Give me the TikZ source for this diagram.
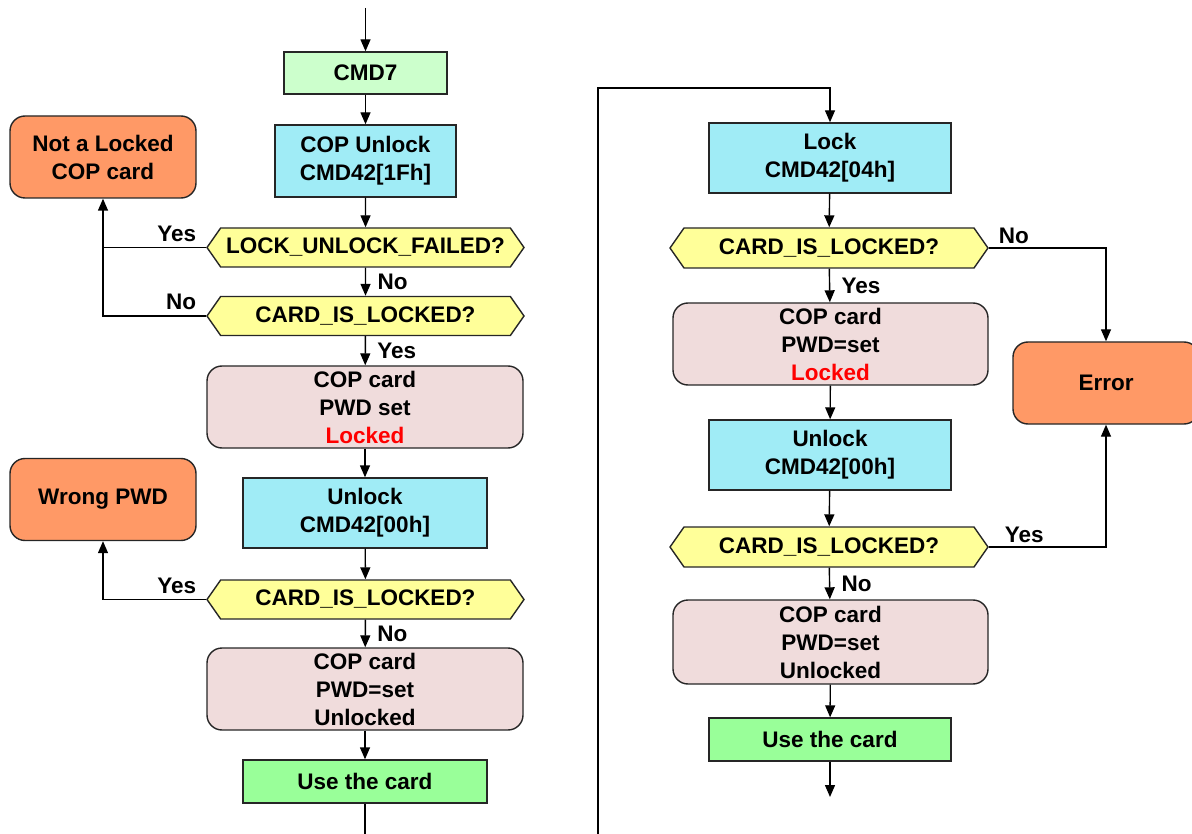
\documentclass[tikz,border=0pt]{standalone}
\usepackage{fontspec}
\setmainfont{Liberation Sans}
\usetikzlibrary{arrows.meta,shapes.symbols,positioning}
\definecolor{cmdgreen}{HTML}{CCFFCC}
\definecolor{cmdblue}{HTML}{A0ECF6}
\definecolor{askyellow}{HTML}{FFFF99}
\definecolor{statepink}{HTML}{F0DCDC}
\definecolor{failorange}{HTML}{FF9966}
\definecolor{usegreen}{HTML}{99FF99}
\definecolor{lockred}{HTML}{FF0000}
\tikzset{
  box/.style={draw=black!85,line width=1.4pt,inner sep=0pt,align=center},
  cmdbox/.style={box,fill=cmdblue},
  statebox/.style={box,fill=statepink,rounded corners=15pt,minimum width=316pt,minimum height=82pt},
  failbox/.style={box,fill=failorange,rounded corners=15pt,minimum width=186pt,minimum height=82pt},
  usebox/.style={box,fill=usegreen,minimum width=244pt,minimum height=43pt},
  askhex/.style={box,fill=askyellow,shape=signal,signal to=west and east,signal pointer angle=110,minimum width=317pt,minimum height=39pt},
  flow/.style={line width=1.4pt,-{Triangle[length=12pt,width=10pt]}},
  link/.style={line width=1.4pt},
  downlabel/.style={right,xshift=8pt}
}
\begin{document}
\begin{tikzpicture}[x=1pt,y=-1pt,font=\fontsize{22.5}{28}\selectfont\bfseries]
		\useasboundingbox (0,0) rectangle (1192,834);
		% left column
		\coordinate (start) at (365.5,8);
		\node[box,fill=cmdgreen,minimum width=163pt,minimum height=42pt] (cmd7) at (365.5,73) {CMD7};
		\node[cmdbox,minimum width=181pt,minimum height=72pt] (copunlock) at (365.5,161) {COP Unlock\\CMD42[1Fh]};
		\node[askhex] (failed) at (365.5,247.5) {LOCK\_UNLOCK\_FAILED?};
		\node[askhex] (lockedA) at (365.5,316) {CARD\_IS\_LOCKED?};
		\node[statebox] (stateA) at (365,407) {COP card\\PWD set\\\textcolor{lockred}{Locked}};
		\node[cmdbox,minimum width=244pt,minimum height=70pt] (unlockA) at (365,513) {Unlock\\CMD42[00h]};
		\node[askhex] (lockedB) at (365.5,599.5) {CARD\_IS\_LOCKED?};
		\node[statebox] (stateB) at (365,689) {COP card\\PWD=set\\Unlocked};
		\node[usebox] (useA) at (365,781.5) {Use the card};
		\coordinate (exitA) at (365,834);
		\node[failbox] (notlocked) at (103,157) {Not a Locked\\COP card};
		\node[failbox] (wrongpwd) at (103,499.5) {Wrong PWD};
		\coordinate (joinA) at (notlocked.south |- failed.west);
		
		\draw[flow] (start) -- (cmd7);
		\draw[flow] (cmd7) -- (copunlock);
		\draw[flow] (copunlock) -- (failed);
		\draw[flow] (failed) -- node[downlabel]{No} (lockedA);
		\draw[flow] (lockedA) -- node[downlabel]{Yes} (stateA);
		\draw[flow] (stateA) -- (unlockA);
		\draw[flow] (unlockA) -- (lockedB);
		\draw[flow] (lockedB) -- node[downlabel]{No} (stateB);
		\draw[flow] (stateB) -- (useA);
		\draw[link] (useA) -- (exitA);
		\draw[flow] (failed.west) -| node[pos=0,above left,xshift=-6pt,yshift=2pt]{Yes} (notlocked.south);
		\draw[link] (lockedA.west) -| node[pos=0,above left,xshift=-6pt,yshift=2pt]{No} (joinA);
		\draw[flow] (lockedB.west) -| node[pos=0,above left,xshift=-6pt,yshift=2pt]{Yes} (wrongpwd.south);
		
		% right column
		\coordinate (rightin) at (598,834);
		\coordinate (loopin) at (598,88);
		\node[cmdbox,minimum width=242pt,minimum height=70pt] (lock) at (830,158) {Lock\\CMD42[04h]};
		\node[askhex,minimum width=318pt,minimum height=40pt] (lockedC) at (829,248) {CARD\_IS\_LOCKED?};
		\node[statebox,minimum width=315pt] (stateC) at (830.5,344) {COP card\\PWD=set\\\textcolor{lockred}{Locked}};
		\node[cmdbox,minimum width=242pt,minimum height=70pt] (unlockB) at (830,455) {Unlock\\CMD42[00h]};
		\node[askhex,minimum width=318pt,minimum height=40pt] (lockedD) at (829,547) {CARD\_IS\_LOCKED?};
		\node[statebox,minimum width=315pt,minimum height=84pt] (stateD) at (830.5,642) {COP card\\PWD=set\\Unlocked};
		\node[usebox,minimum width=242pt] (useB) at (830,739.5) {Use the card};
		\coordinate (exitB) at (830,797);
		\node[failbox] (error) at (1106,383) {Error};
		
		\draw[flow] (rightin) -- (loopin) -| (lock.north);
		\draw[flow] (lock) -- (lockedC);
		\draw[flow] (lockedC) -- node[downlabel]{Yes} (stateC);
		\draw[flow] (stateC) -- (unlockB);
		\draw[flow] (unlockB) -- (lockedD);
		\draw[flow] (lockedD) -- node[downlabel]{No} (stateD);
		\draw[flow] (stateD) -- (useB);
		\draw[flow] (useB) -- (exitB);
		\draw[flow] (lockedC.east) -| node[pos=0,above right,xshift=6pt]{No} (error.north);
		\draw[flow] (lockedD.east) -| node[pos=0,above right,xshift=12pt]{Yes} (error.south);
	\end{tikzpicture}
\end{document}
